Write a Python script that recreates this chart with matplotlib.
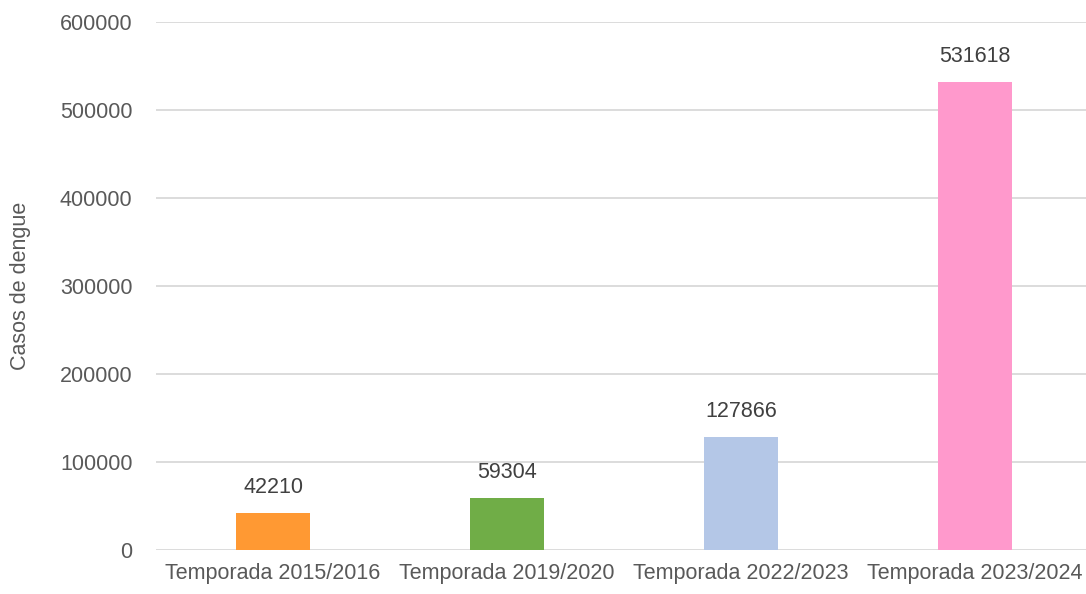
import matplotlib.pyplot as plt
import numpy as np

categorias = ["Temporada 2015/2016", "Temporada 2019/2020",
              "Temporada 2022/2023", "Temporada 2023/2024"]
casos = [42210, 59304, 127866, 531618]
colores = ["#FF9933", "#70AD47", "#B4C7E7", "#FF99CC"]

plt.rcParams['font.family'] = ['Liberation Sans', 'DejaVu Sans']
fs = 15.5

fig = plt.figure(figsize=(10.86, 5.94), dpi=100)
ax = fig.add_axes([156 / 1086, 1 - 550 / 594, 936 / 1086, 528 / 594])

x = np.arange(len(categorias))
bars = ax.bar(x, casos, width=0.316, color=colores, zorder=3)

for b, v in zip(bars, casos):
    ax.annotate(str(v), (b.get_x() + b.get_width() / 2, v),
                xytext=(0, 11), textcoords="offset points",
                ha="center", va="bottom", fontsize=fs, color="#404040")

ax.set_xlim(-0.5, 3.5)
ax.set_ylim(0, 600000)
ax.set_yticks(np.arange(0, 600001, 100000))
ax.grid(axis="y", color="#D9D9D9", linewidth=1.3, zorder=0)
ax.set_xticks(x)
ax.set_xticklabels(categorias)
ax.tick_params(axis="both", length=0, labelsize=fs, colors="#595959")
ax.tick_params(axis="x", pad=9)
ax.tick_params(axis="y", pad=17)
for s in ax.spines.values():
    s.set_visible(False)

ax.set_ylabel("Casos de dengue", fontsize=fs, color="#595959")
ax.yaxis.set_label_coords(-0.134, 0.5)

fig.savefig("out.png", dpi=100)
